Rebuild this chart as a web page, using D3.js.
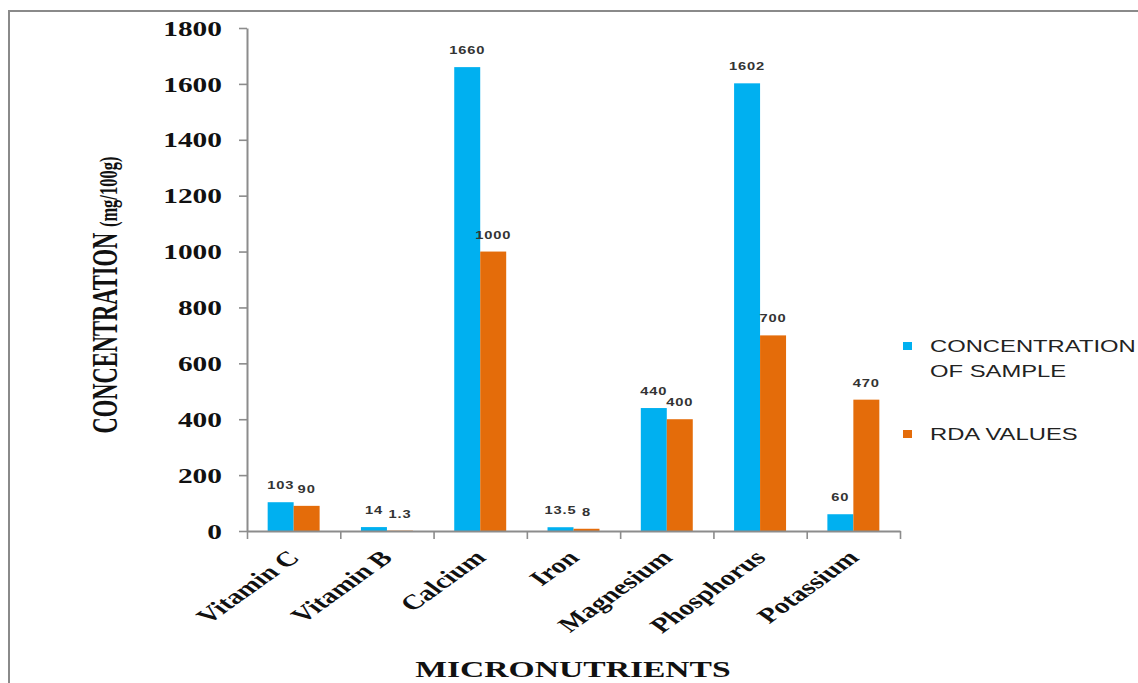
<!DOCTYPE html>
<html>
<head>
<meta charset="utf-8">
<script src="https://cdn.jsdelivr.net/npm/d3@7"></script>
<style>
  html, body { margin: 0; padding: 0; background: #fff; }
  svg { display: block; }
</style>
</head>
<body>
<svg id="chart" width="1138" height="683"></svg>
<script>
// Micronutrient content of the sample compared with recommended daily allowance
const categories = ["Vitamin C", "Vitamin B", "Calcium", "Iron", "Magnesium", "Phosphorus", "Potassium"];
const sampleValues = [103, 14, 1660, 13.5, 440, 1602, 60];
const rdaValues = [90, 1.3, 1000, 8, 400, 700, 470];
const seriesNames = ["CONCENTRATION OF SAMPLE", "RDA VALUES"];
const yTicks = [0, 200, 400, 600, 800, 1000, 1200, 1400, 1600, 1800];

const colors = ["#00B0F0", "#E46C0A"];
const axisColor = "#8c8c8c";
const stretch = 1.4; // wide lettering used throughout the figure

const svg = d3.select("#chart");
const W = 1138, H = 683;
const margin = { left: 247, top: 28 };
const plotW = 653, plotH = 503;

// outer frame
svg.append("rect")
  .attr("x", 9).attr("y", 11)
  .attr("width", W + 20).attr("height", H + 20)
  .attr("fill", "none").attr("stroke", "#8a8a8a").attr("stroke-width", 2);

const g = svg.append("g").attr("transform", `translate(${margin.left},${margin.top})`);

const y = d3.scaleLinear().domain([0, 1800]).range([plotH, 0]);
const xEdge = d3.scaleLinear().domain([0, categories.length]).range([0, plotW]);
const x0 = d3.scaleBand().domain(categories).range([0, plotW])
  .paddingInner(0.443).paddingOuter(0.2215);
const x1 = d3.scaleBand().domain([0, 1]).range([0, x0.bandwidth()]);

const series = [sampleValues, rdaValues];

// bars
series.forEach((vals, s) => {
  g.append("g").selectAll("rect")
    .data(categories.map((c, i) => ({ c, v: vals[i] })))
    .join("rect")
    .attr("x", d => x0(d.c) + x1(s))
    .attr("y", d => y(d.v))
    .attr("width", x1.bandwidth())
    .attr("height", d => plotH - y(d.v))
    .attr("fill", colors[s]);
});

// value labels
series.forEach((vals, s) => {
  g.append("g").selectAll("text")
    .data(categories.map((c, i) => ({ c, v: vals[i] })))
    .join("text")
    .attr("transform", d => `translate(${x0(d.c) + x1(s) + x1.bandwidth() / 2},${y(d.v) - 13}) scale(${stretch},1)`)
    .attr("text-anchor", "middle")
    .attr("font-family", "Liberation Sans, Arial, sans-serif")
    .attr("font-size", 10.5)
    .attr("font-weight", "bold")
    .attr("letter-spacing", 0.6)
    .attr("fill", "#333")
    .text(d => d.v);
});

// y axis
const yAxis = g.append("g")
  .call(d3.axisLeft(y).tickValues(yTicks).tickSize(8).tickSizeOuter(0).tickFormat(d3.format("d")));
yAxis.select(".domain").attr("stroke", axisColor).attr("stroke-width", 2);
yAxis.selectAll(".tick line").attr("stroke", axisColor).attr("stroke-width", 1.6);
yAxis.selectAll(".tick text")
  .attr("x", 0)
  .attr("dy", "0.34em")
  .attr("transform", `translate(-25,0) scale(${stretch},1)`)
  .attr("text-anchor", "end")
  .attr("font-family", "Liberation Serif, Times New Roman, serif")
  .attr("font-weight", "bold")
  .attr("font-size", 21)
  .attr("fill", "#111");

// x axis with ticks between categories
const xAxis = g.append("g")
  .attr("transform", `translate(0,${plotH})`)
  .call(d3.axisBottom(xEdge).tickValues(d3.range(categories.length + 1)).tickSize(8).tickSizeOuter(0).tickFormat(""));
xAxis.select(".domain").attr("stroke", axisColor).attr("stroke-width", 2);
xAxis.selectAll(".tick line").attr("stroke", axisColor).attr("stroke-width", 1.6);

// category labels
g.append("g").selectAll("text")
  .data(categories)
  .join("text")
  .attr("transform", d => `translate(${x0(d) + x0.bandwidth() / 2 + 7},${plotH + 28}) scale(${stretch},1) rotate(-45)`)
  .attr("text-anchor", "end")
  .attr("font-family", "Liberation Serif, Times New Roman, serif")
  .attr("font-weight", "bold")
  .attr("font-size", 21)
  .attr("fill", "#111")
  .text(d => d);

// axis titles
svg.append("text")
  .attr("transform", `translate(573,${677}) scale(1.4,1)`)
  .attr("text-anchor", "middle")
  .attr("font-family", "Liberation Serif, Times New Roman, serif")
  .attr("font-weight", "bold")
  .attr("font-size", 24)
  .attr("fill", "#111")
  .text("MICRONUTRIENTS");

const yTitle = svg.append("text")
  .attr("transform", `translate(117,295) scale(1.55,1) rotate(-90)`)
  .attr("text-anchor", "middle")
  .attr("font-family", "Liberation Serif, Times New Roman, serif")
  .attr("font-weight", "bold")
  .attr("fill", "#111");
yTitle.append("tspan").attr("font-size", 22.5).text("CONCENTRATION ");
yTitle.append("tspan").attr("font-size", 16.5).text("(mg/100g)");

// legend
const legend = svg.append("g").attr("transform", "translate(903,0)");
const legendRows = [
  { lines: ["CONCENTRATION", "OF SAMPLE"], y: 352 },
  { lines: ["RDA VALUES"], y: 440 }
];
legendRows.forEach((row, i) => {
  legend.append("rect")
    .attr("x", 0).attr("y", row.y - 10)
    .attr("width", 9).attr("height", 8)
    .attr("fill", colors[i]);
  row.lines.forEach((line, j) => {
    legend.append("text")
      .attr("transform", `translate(27,${row.y + j * 25}) scale(${stretch},1)`)
      .attr("font-family", "Liberation Sans, Arial, sans-serif")
      .attr("font-size", 17)
      .attr("fill", "#222")
      .text(line);
  });
});
</script>
</body>
</html>
